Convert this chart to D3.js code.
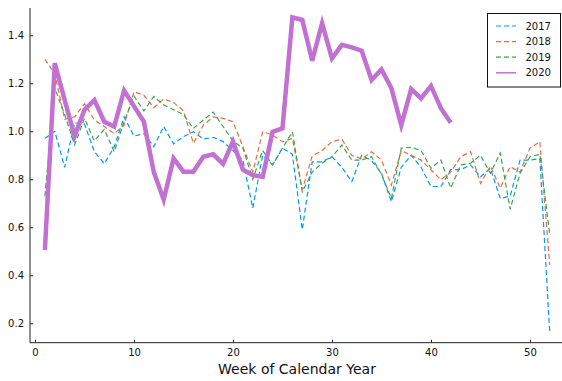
<!DOCTYPE html>
<html>
<head>
<meta charset="utf-8">
<script src="https://cdn.jsdelivr.net/npm/d3@7"></script>
<style>
    body { margin: 0; background: #fff; }
    svg { display: block; font-family: "DejaVu Sans", sans-serif; }
</style>
</head>
<body>
<svg id="chart" width="562" height="381"></svg>
<script>
// weekly values
var weeks2017 = [0.97, 1.0, 0.85, 1.035, 1.03, 0.915, 0.865, 0.935, 1.06, 0.98,
    0.99, 0.936, 1.02, 0.948, 0.978, 0.998, 0.968, 0.975, 0.957, 0.92,
    0.88, 0.68, 0.90, 0.86, 0.93, 0.905, 0.59, 0.873, 0.873, 0.894,
    0.85, 0.79, 0.90, 0.878, 0.825, 0.707, 0.85, 0.90, 0.85, 0.77,
    0.77, 0.84, 0.84, 0.86, 0.81, 0.846, 0.72, 0.73, 0.88, 0.88,
    0.886, 0.16];
var weeks2018 = [1.30, 1.24, 1.05, 1.06, 1.115, 1.047, 1.02, 0.99, 1.026, 1.165,
    1.15, 1.098, 1.135, 1.12, 1.085, 0.95, 1.026, 1.06, 1.054, 1.04,
    0.936, 0.83, 0.998, 0.985, 0.957, 0.97, 0.756, 0.897, 0.92, 0.957,
    0.967, 0.90, 0.885, 0.915, 0.88, 0.776, 0.92, 0.90, 0.88, 0.84,
    0.798, 0.83, 0.894, 0.915, 0.783, 0.855, 0.763, 0.853, 0.83, 0.93,
    0.957, 0.443];
var weeks2019 = [0.73, 1.18, 1.07, 0.943, 1.054, 0.96, 1.008, 0.915, 1.04, 1.147,
    1.085, 1.145, 1.11, 1.09, 1.07, 1.012, 1.047, 1.08, 1.02, 0.96,
    0.93, 0.80, 0.92, 0.86, 0.93, 0.998, 0.748, 0.83, 0.867, 0.894,
    0.943, 0.88, 0.88, 0.894, 0.82, 0.72, 0.93, 0.933, 0.92, 0.846,
    0.88, 0.763, 0.86, 0.867, 0.90, 0.825, 0.91, 0.675, 0.825, 0.894,
    0.904, 0.568];
var weeks2020 = [0.505, 1.284, 1.13, 0.98, 1.09, 1.13, 1.04, 1.02, 1.17, 1.105,
    1.04, 0.83, 0.715, 0.887, 0.832, 0.832, 0.894, 0.904, 0.864, 0.957,
    0.84, 0.818, 0.81, 0.998, 1.012, 1.475, 1.464, 1.294, 1.45, 1.304,
    1.36, 1.35, 1.336, 1.214, 1.258, 1.18, 1.026, 1.176, 1.137, 1.189,
    1.096, 1.036];

var seriesNames = ["2017", "2018", "2019", "2020"];
var xTicks = [0, 10, 20, 30, 40, 50];
var yTicks = [0.2, 0.4, 0.6, 0.8, 1.0, 1.2, 1.4];
var xLabel = "Week of Calendar Year";

(function() {
    var series = [
        { name: seriesNames[0], values: weeks2017, color: "#009af9", width: 1.2, dash: "5,3" },
        { name: seriesNames[1], values: weeks2018, color: "#e26f46", width: 1.2, dash: "5,3" },
        { name: seriesNames[2], values: weeks2019, color: "#3da44d", width: 1.2, dash: "5,3" },
        { name: seriesNames[3], values: weeks2020, color: "#c271d2", width: 4.5, dash: null }
    ];

    var svg = d3.select("#chart");
    var plotLeft = 30, plotBottom = 342.7, plotTop = 8;

    var x = d3.scaleLinear().domain([-0.53, 53.53]).range([29.75, 564.9]);
    var y = d3.scaleLinear().domain([0.1192, 1.5138]).range([plotBottom, plotTop]);

    // axes, ticks point inward like the GR backend
    var xAxis = d3.axisBottom(x).tickValues(xTicks).tickSizeInner(-3).tickSizeOuter(0).tickPadding(6);
    var yAxis = d3.axisLeft(y).tickValues(yTicks).tickSizeInner(-3).tickSizeOuter(0).tickPadding(6)
        .tickFormat(d3.format(".1f"));

    var gx = svg.append("g").attr("transform", "translate(0," + plotBottom + ")").call(xAxis);
    var gy = svg.append("g").attr("transform", "translate(" + plotLeft + ",0)").call(yAxis);

    [gx, gy].forEach(function(g) {
        g.select(".domain").attr("stroke", "#222").attr("stroke-width", 1);
        g.selectAll(".tick line").attr("stroke", "#222");
        g.selectAll(".tick text").attr("fill", "#111").style("font-size", "10px")
            .style("font-family", "DejaVu Sans, sans-serif");
    });
    gx.select(".domain").attr("d", "M" + plotLeft + ",0H562");
    gy.select(".domain").attr("d", "M0," + plotTop + "V" + plotBottom);

    svg.append("text")
        .attr("x", 297)
        .attr("y", 374)
        .attr("text-anchor", "middle")
        .style("font-size", "14px")
        .attr("fill", "#111")
        .text(xLabel);

    // lines
    var line = d3.line()
        .x(function(d, i) { return x(i + 1); })
        .y(function(d) { return y(d); });

    svg.append("g").selectAll("path.series")
        .data(series)
        .enter().append("path")
        .attr("class", "series")
        .attr("d", function(d) { return line(d.values); })
        .attr("fill", "none")
        .attr("stroke", function(d) { return d.color; })
        .attr("stroke-width", function(d) { return d.width; })
        .attr("stroke-dasharray", function(d) { return d.dash; });

    // legend
    var legend = svg.append("g").attr("transform", "translate(487.5,13.5)");
    legend.append("rect")
        .attr("width", 73)
        .attr("height", 73.5)
        .attr("fill", "#fff")
        .attr("stroke", "#111")
        .attr("stroke-width", 1);

    var item = legend.selectAll("g.item")
        .data(series)
        .enter().append("g")
        .attr("class", "item")
        .attr("transform", function(d, i) { return "translate(0," + (12.5 + i * 15.6) + ")"; });

    item.append("line")
        .attr("x1", 8.5).attr("x2", 28.5)
        .attr("stroke", function(d) { return d.color; })
        .attr("stroke-width", function(d) { return d.dash ? 1.2 : 1.5; })
        .attr("stroke-dasharray", function(d) { return d.dash; });

    item.append("text")
        .attr("x", 38)
        .attr("dy", "0.35em")
        .style("font-size", "10px")
        .attr("fill", "#111")
        .text(function(d) { return d.name; });
})();
</script>
</body>
</html>
